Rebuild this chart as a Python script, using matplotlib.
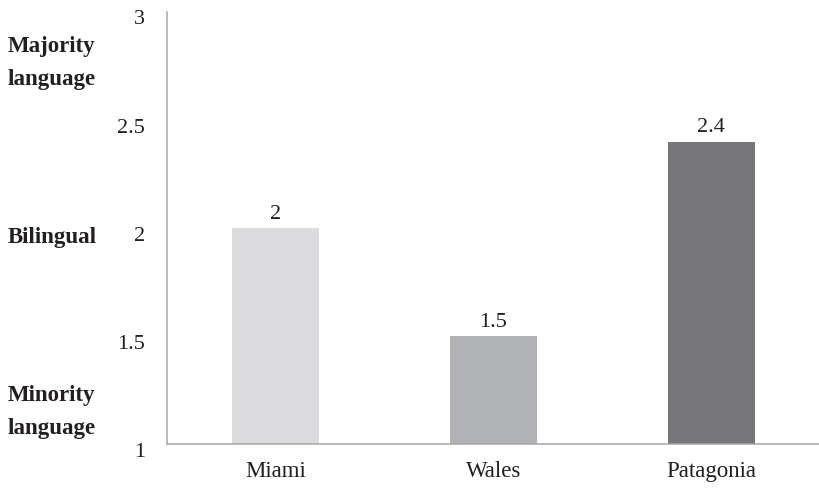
import matplotlib

matplotlib.use("Agg")
import matplotlib.pyplot as plt
import matplotlib.transforms as mtransforms

# Language mode scores by community
places = ["Miami", "Wales", "Patagonia"]
scores = [2.0, 1.5, 2.4]
score_labels = ["2", "1.5", "2.4"]
bar_colors = ["#dcdcde", "#b1b2b5", "#76767a"]

y_ticks = [1, 1.5, 2, 2.5, 3]
y_tick_labels = ["1", "1.5", "2", "2.5", "3"]
scale_names = ["Minority\nlanguage", "Bilingual", "Majority\nlanguage"]
scale_positions = [1.15, 1.955, 2.765]

TEXT = "#231f20"
plt.rcParams["font.family"] = ["Liberation Serif", "DejaVu Serif"]

fig = plt.figure(figsize=(8.2, 4.91), dpi=100)
ax = fig.add_axes([0.2037, 0.0957, 0.7963, 0.88])

x = range(len(places))
bars = ax.bar(x, scores, width=0.4, bottom=0, color=bar_colors, zorder=2)
ax.set_ylim(1, 3)
ax.set_xlim(-0.5, 2.5)

for bar, label in zip(bars, score_labels):
    ax.annotate(
        label,
        (bar.get_x() + bar.get_width() / 2, bar.get_height()),
        xytext=(0, 3),
        textcoords="offset points",
        ha="center",
        va="bottom",
        fontsize=16,
        color=TEXT,
    )

ax.set_xticks(list(x))
ax.set_xticklabels(places, fontsize=16.5, color=TEXT)
ax.set_yticks(y_ticks)
ax.set_yticklabels(y_tick_labels, fontsize=16, color=TEXT)
ax.tick_params(axis="y", length=0, pad=16)
ax.tick_params(axis="x", length=0, pad=12)

# the scale numbers sit a little below their gridline value
shift_down = mtransforms.ScaledTranslation(0, -4 / 72, fig.dpi_scale_trans)
for lbl in ax.get_yticklabels():
    lbl.set_transform(lbl.get_transform() + shift_down)

for side in ("top", "right"):
    ax.spines[side].set_visible(False)
for side in ("left", "bottom"):
    ax.spines[side].set_color("#a6a6a8")
    ax.spines[side].set_linewidth(1.1)

trans = mtransforms.blended_transform_factory(fig.transFigure, ax.transData)
for name, pos in zip(scale_names, scale_positions):
    ax.text(
        0.009,
        pos,
        name,
        transform=trans,
        ha="left",
        va="center",
        fontsize=16.5,
        fontweight="bold",
        color=TEXT,
        linespacing=1.75,
    )

fig.savefig("out.png", dpi=100)
